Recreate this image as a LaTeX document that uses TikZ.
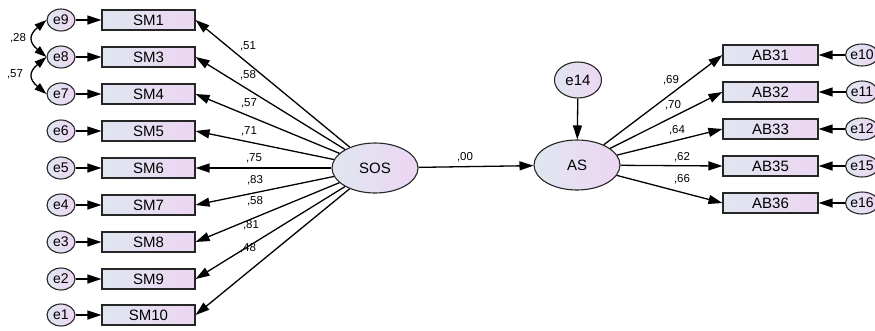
\documentclass[tikz,border=0pt]{standalone}
\usepackage{fontspec}
\setmainfont{Liberation Sans}
\usetikzlibrary{arrows.meta,shapes.geometric}
\definecolor{boxl}{RGB}{224,230,240}
\definecolor{boxr}{RGB}{236,214,242}
\begin{document}
\begin{tikzpicture}[x=1pt,y=1pt,
  mbox/.style={draw=black!85, line width=1.1pt, minimum width=93pt, minimum height=20pt, inner sep=0pt,
    left color=boxl, right color=boxr, font=\fontsize{15}{15}\selectfont},
  err/.style={ellipse, draw=black!85, line width=1.1pt, minimum width=28pt, minimum height=22pt, inner sep=0pt,
    left color=boxl, right color=boxr, font=\fontsize{14}{14}\selectfont},
  lat/.style={ellipse, draw=black!85, line width=1.1pt, minimum width=86pt, minimum height=50pt, inner sep=0pt,
    left color=boxl, right color=boxr, font=\fontsize{15}{15}\selectfont},
  arr/.style={-{Triangle[length=14pt,width=9pt]}, line width=1.3pt},
  cov/.style={{Triangle[length=12pt,width=8pt]}-{Triangle[length=12pt,width=8pt]}, line width=1.3pt},
  lbl/.style={font=\fontsize{11.5}{11.5}\selectfont, inner sep=0pt}]
\useasboundingbox (0,0) rectangle (875,-330);
% left measurement boxes and errors
\foreach \n/\e/\y in {SM1/e9/20, SM3/e8/57, SM4/e7/94, SM5/e6/131, SM6/e5/168, SM7/e4/205, SM8/e3/242, SM9/e2/279, SM10/e1/315}{
  \node[mbox] (\n) at (148.5,-\y) {\n};
  \node[err] (\e) at (61,-\y) {\e};
  \draw[arr] (\e) -- (\n);
}
% latent variables
\node[lat] (SOS) at (375,-168) {SOS};
\node[lat] (AS) at (577,-165) {AS};
\node[ellipse, draw=black!85, line width=1.1pt, minimum width=47pt, minimum height=36pt, inner sep=0pt,
  left color=boxl, right color=boxr, font=\fontsize{15}{15}\selectfont] (e14) at (578,-80) {e14};
\draw[arr] (e14) -- (AS);
\draw[arr] (SOS) -- (AS);
\node[lbl] (l00) at (465,-157) {,00};
% SOS loadings
\foreach \n in {SM1,SM3,SM4,SM5,SM6,SM7,SM8,SM9,SM10}{
  \draw[arr] (SOS) -- (\n.east);
}
\foreach \t/\x/\y in {51/248/46, 58/248/75, 57/249/103, 71/249/131, 75/254/158, 83/255/180, 58/255/201, 81/251/225, 48/248/248}{
  \node[lbl] at (\x,-\y) {,\t};
}
% right boxes
\foreach \n/\e/\y in {AB31/e10/55, AB32/e11/92, AB33/e12/129, AB35/e15/166, AB36/e16/203}{
  \node[mbox, minimum width=95pt] (\n) at (770.5,-\y) {\n};
  \node[err, minimum width=30pt] (\e) at (862,-\y) {\e};
  \draw[arr] (\e) -- (\n);
  \draw[arr] (AS) -- (\n.west);
}
\foreach \t/\x/\y in {69/671/80, 70/673/105, 64/677/130, 62/682/157, 66/682/179}{
  \node[lbl] at (\x,-\y) {,\t};
}
% covariances
\draw[cov] (e9.west) to[out=220, in=140, looseness=1.6] (e8.west);
\draw[cov] (e8.west) to[out=220, in=140, looseness=1.6] (e7.west);
\node[lbl] (c1) at (18,-38) {,28};
\node[lbl] (c2) at (15,-74) {,57};
\end{tikzpicture}
\end{document}
